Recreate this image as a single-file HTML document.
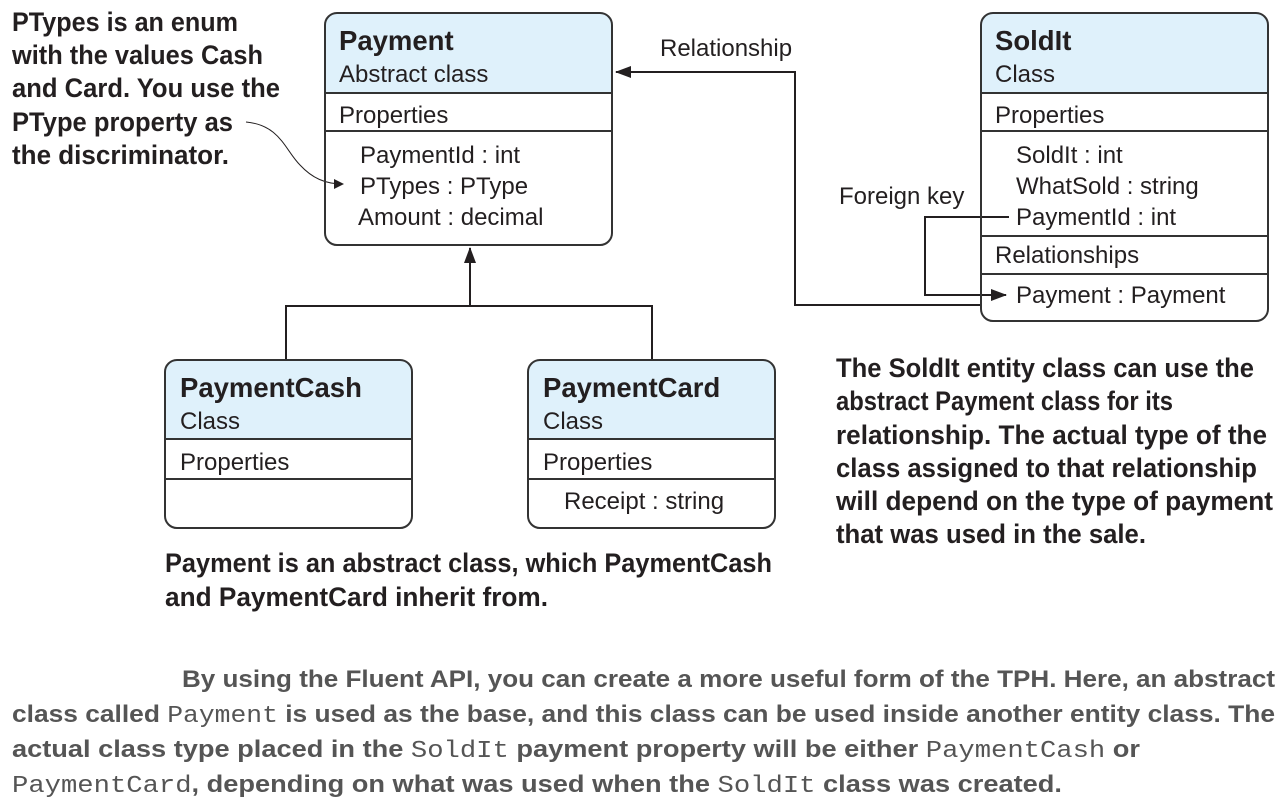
<!DOCTYPE html>
<html><head><meta charset="utf-8"><style>
html,body{margin:0;padding:0;background:#fff;}
svg{display:block;}
.t{font-family:"Liberation Sans",sans-serif;fill:#231f20;}
.a{font-family:"Liberation Sans Narrow","Liberation Sans",sans-serif;font-weight:bold;fill:#231f20;}
.c{font-family:"Liberation Sans Narrow","Liberation Sans",sans-serif;font-weight:bold;fill:#555;}
.m{font-family:"Liberation Mono",monospace;font-weight:normal;}
</style></head><body>
<svg width="1283" height="807" viewBox="0 0 1283 807" xmlns="http://www.w3.org/2000/svg">
<defs>
<marker id="ar" markerWidth="10" markerHeight="10" refX="9" refY="5" orient="auto" markerUnits="userSpaceOnUse"><path d="M0,0 L10,5 L0,10 z" fill="#231f20"/></marker>
<marker id="ar2" markerWidth="16" markerHeight="12" refX="15" refY="6" orient="auto" markerUnits="userSpaceOnUse"><path d="M0,0 L16,6 L0,12 z" fill="#231f20"/></marker>
</defs>
<g stroke="#231f20" stroke-width="2" fill="none">
<polyline points="286,360 286,306 652,306 652,360"/>
<line x1="470" y1="306" x2="470" y2="248" marker-end="url(#ar2)"/>
<polyline points="981,305 795,305 795,72 616,72" marker-end="url(#ar2)"/>
<polyline points="1009,217 925,217 925,295 1006,295" marker-end="url(#ar2)"/>
<path d="M246,122 C280,125 285,150 300,165 C312,178 325,184 343,184" stroke-width="1" marker-end="url(#ar)"/>
</g>
<g>
<path d="M325,93 V25 Q325,13 337,13 H600 Q612,13 612,25 V93 Z" fill="#dff1fb"/>
<rect x="325" y="13" width="287" height="232" rx="12" fill="none" stroke="#333" stroke-width="2"/>
<line x1="325" y1="93" x2="612" y2="93" stroke="#333" stroke-width="2"/>
<line x1="325" y1="131" x2="612" y2="131" stroke="#333" stroke-width="2"/>
<text class="t" x="339" y="50" font-size="27.5" font-weight="bold">Payment</text>
<text class="t" x="339" y="82" font-size="24">Abstract class</text>
<text class="t" x="339" y="123" font-size="24">Properties</text>
<text class="t" x="360" y="163" font-size="24">PaymentId : int</text>
<text class="t" x="360" y="194" font-size="24">PTypes : PType</text>
<text class="t" x="358" y="225" font-size="24">Amount : decimal</text>
</g>
<g>
<path d="M981,93 V25 Q981,13 993,13 H1256 Q1268,13 1268,25 V93 Z" fill="#dff1fb"/>
<rect x="981" y="13" width="287" height="308" rx="12" fill="none" stroke="#333" stroke-width="2"/>
<line x1="981" y1="93" x2="1268" y2="93" stroke="#333" stroke-width="2"/>
<line x1="981" y1="131" x2="1268" y2="131" stroke="#333" stroke-width="2"/>
<line x1="981" y1="236" x2="1268" y2="236" stroke="#333" stroke-width="2"/>
<line x1="981" y1="274" x2="1268" y2="274" stroke="#333" stroke-width="2"/>
<text class="t" x="995" y="50" font-size="27.5" font-weight="bold">SoldIt</text>
<text class="t" x="995" y="82" font-size="24">Class</text>
<text class="t" x="995" y="123" font-size="24">Properties</text>
<text class="t" x="1016" y="163" font-size="24">SoldIt : int</text>
<text class="t" x="1016" y="194" font-size="24">WhatSold : string</text>
<text class="t" x="1016" y="225" font-size="24">PaymentId : int</text>
<text class="t" x="995" y="263" font-size="24">Relationships</text>
<text class="t" x="1016" y="303" font-size="24">Payment : Payment</text>
</g>
<g>
<path d="M165,439 V372 Q165,360 177,360 H400 Q412,360 412,372 V439 Z" fill="#dff1fb"/>
<rect x="165" y="360" width="247" height="168" rx="12" fill="none" stroke="#333" stroke-width="2"/>
<line x1="165" y1="439" x2="412" y2="439" stroke="#333" stroke-width="2"/>
<line x1="165" y1="479" x2="412" y2="479" stroke="#333" stroke-width="2"/>
<text class="t" x="180" y="397" font-size="27.5" font-weight="bold">PaymentCash</text>
<text class="t" x="180" y="429" font-size="24">Class</text>
<text class="t" x="180" y="470" font-size="24">Properties</text>
</g>
<g>
<path d="M528,439 V372 Q528,360 540,360 H763 Q775,360 775,372 V439 Z" fill="#dff1fb"/>
<rect x="528" y="360" width="247" height="168" rx="12" fill="none" stroke="#333" stroke-width="2"/>
<line x1="528" y1="439" x2="775" y2="439" stroke="#333" stroke-width="2"/>
<line x1="528" y1="479" x2="775" y2="479" stroke="#333" stroke-width="2"/>
<text class="t" x="543" y="397" font-size="27.5" font-weight="bold">PaymentCard</text>
<text class="t" x="543" y="429" font-size="24">Class</text>
<text class="t" x="543" y="470" font-size="24">Properties</text>
<text class="t" x="564" y="509" font-size="24">Receipt : string</text>
</g>
<text class="t" x="660" y="56" font-size="24">Relationship</text>
<text class="t" x="839" y="204" font-size="24">Foreign key</text>
<g class="a" font-size="27">
<text x="12" y="31" textLength="226" lengthAdjust="spacingAndGlyphs">PTypes is an enum</text>
<text x="12" y="64" textLength="251" lengthAdjust="spacingAndGlyphs">with the values Cash</text>
<text x="12" y="97" textLength="268" lengthAdjust="spacingAndGlyphs">and Card. You use the</text>
<text x="12" y="131" textLength="221" lengthAdjust="spacingAndGlyphs">PType property as</text>
<text x="12" y="164" textLength="217" lengthAdjust="spacingAndGlyphs">the discriminator.</text>
</g>
<g class="a" font-size="27">
<text x="836" y="377" textLength="418" lengthAdjust="spacingAndGlyphs">The SoldIt entity class can use the</text>
<text x="836" y="410" textLength="337" lengthAdjust="spacingAndGlyphs">abstract Payment class for its</text>
<text x="836" y="444" textLength="431" lengthAdjust="spacingAndGlyphs">relationship. The actual type of the</text>
<text x="836" y="477" textLength="421" lengthAdjust="spacingAndGlyphs">class assigned to that relationship</text>
<text x="836" y="510" textLength="437" lengthAdjust="spacingAndGlyphs">will depend on the type of payment</text>
<text x="836" y="543" textLength="310" lengthAdjust="spacingAndGlyphs">that was used in the sale.</text>
</g>
<g class="a" font-size="27">
<text x="165" y="572" textLength="607" lengthAdjust="spacingAndGlyphs">Payment is an abstract class, which PaymentCash</text>
<text x="165" y="606" textLength="383" lengthAdjust="spacingAndGlyphs">and PaymentCard inherit from.</text>
</g>
<g class="c" font-size="24">
<text x="182" y="687" textLength="1093" lengthAdjust="spacingAndGlyphs">By using the Fluent API, you can create a more useful form of the TPH. Here, an abstract</text>
<text x="12" y="722" textLength="1263" lengthAdjust="spacingAndGlyphs">class called <tspan class="m">Payment</tspan> is used as the base, and this class can be used inside another entity class. The</text>
<text x="12" y="757" textLength="1128" lengthAdjust="spacingAndGlyphs">actual class type placed in the <tspan class="m">SoldIt</tspan> payment property will be either <tspan class="m">PaymentCash</tspan> or</text>
<text x="12" y="792" textLength="1050" lengthAdjust="spacingAndGlyphs"><tspan class="m">PaymentCard</tspan>, depending on what was used when the <tspan class="m">SoldIt</tspan> class was created.</text>
</g>
</svg>
</body></html>
